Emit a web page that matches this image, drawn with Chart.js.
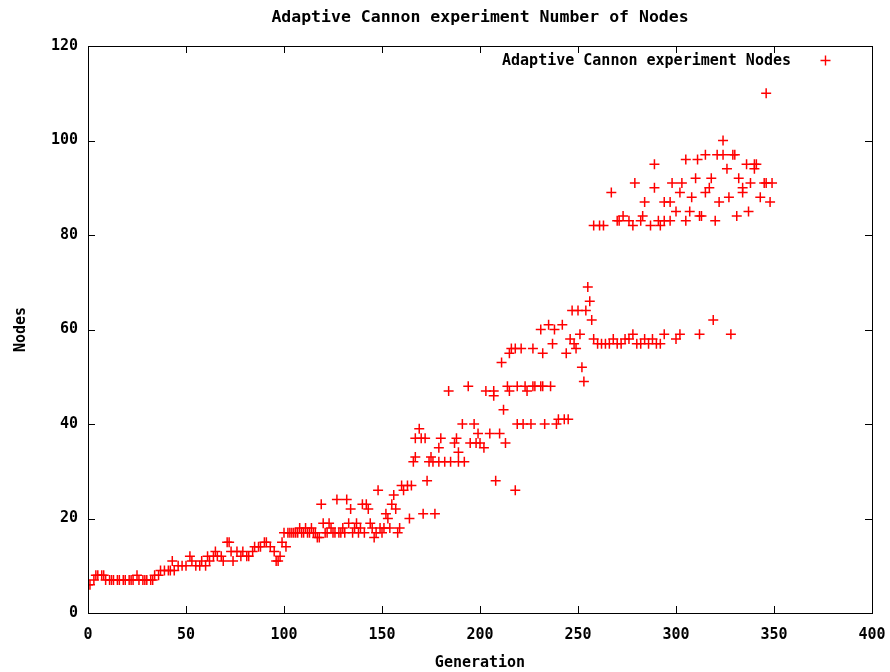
<!DOCTYPE html>
<html>
<head>
<meta charset="utf-8">
<script src="https://cdn.jsdelivr.net/npm/chart.js@4/dist/chart.umd.min.js"></script>
<style>
  html, body { margin: 0; padding: 0; background: #fff; }
</style>
</head>
<body>
<canvas id="c" width="890" height="672"></canvas>
<script>
// values (generation, number of nodes)
var generations = [
  0, 1, 3, 4, 5, 7, 8, 9, 11, 12, 13, 15, 16, 18, 19, 21, 22, 23, 25, 26, 28, 29, 30, 32, 33, 34, 36, 37, 39, 41,
  42, 43, 44, 46, 48, 50, 52, 53, 55, 57, 58, 60, 61, 62, 64, 65, 66, 68, 69, 71, 72, 73, 74, 76, 78, 79, 81, 82, 84, 85,
  87, 88, 90, 91, 93, 95, 96, 97, 98, 99,
  100, 101, 102, 103, 104, 105, 106, 107, 108, 109, 110, 111, 112, 113, 114, 115, 116, 117, 118, 119,
  120, 121, 122, 123, 124, 125, 126, 127, 128, 129, 130, 131, 132, 133, 134, 135, 136, 137, 138, 139,
  140, 141, 142, 143, 144, 145, 146, 147, 148, 149, 150, 151, 152, 153, 154, 155, 156, 157, 158, 159,
  160, 161, 163, 164, 165,
  166, 167, 167, 169, 170, 171, 172, 173, 174, 175, 176, 177, 179, 179, 180, 182, 184, 185, 187, 188,
  189, 189, 191, 192, 194, 195, 197, 198, 199, 200, 202, 203, 205, 207, 207, 208, 210, 211, 212, 213,
  214, 215, 215, 216, 218, 218, 219, 219, 221, 222, 223, 224, 226, 227, 227, 228, 231, 231, 232, 232,
  233, 235, 236, 237, 238, 239, 240, 242, 243, 244, 245, 246, 247, 248, 249, 250, 251, 252, 253, 254,
  255, 256, 257, 258,
  260, 262, 264, 266, 268, 270, 272, 274, 276, 278, 280, 282, 284, 286, 288, 290, 292, 294, 300, 302,
  312, 319, 328,
  258, 261, 263, 267, 270, 271, 273, 276, 278, 279, 282, 283, 284, 287, 289, 289, 291, 292, 294, 294,
  297, 297, 298, 300, 302, 303, 305, 305, 307, 308, 310, 311, 312, 313, 315, 315, 317, 318, 320, 321,
  322, 324, 324, 326, 327, 329, 330, 331, 332, 334, 334, 336, 337, 338, 340, 340, 341, 343, 345, 346,
  346, 348, 349
];
var nodes = [
  6, 6, 7, 8, 8, 8, 8, 7, 7, 7, 7, 7, 7, 7, 7, 7, 7, 7, 8, 7, 7, 7, 7, 7, 7, 8, 8, 9, 9, 9,
  9, 11, 9, 10, 10, 10, 12, 11, 10, 10, 11, 10, 12, 11, 12, 13, 12, 12, 11, 15, 15, 13, 11, 13, 12, 13, 12, 12, 13, 14,
  14, 14, 15, 15, 14, 13, 11, 11, 12, 15,
  17, 14, 17, 17, 17, 17, 17, 17, 18, 17, 17, 18, 17, 17, 18, 17, 17, 16, 16, 23,
  19, 17, 17, 19, 18, 17, 17, 24, 17, 17, 18, 17, 24, 19, 22, 17, 18, 19, 17, 18,
  23, 17, 23, 22, 19, 18, 16, 17, 26, 18, 17, 18, 21, 20, 18, 23, 25, 22, 17, 18,
  27, 26, 27, 20, 27,
  32, 33, 37, 39, 37, 21, 37, 28, 32, 33, 32, 21, 32, 35, 37, 32, 47, 32, 36, 37,
  34, 32, 40, 32, 48, 36, 40, 36, 38, 36, 35, 47, 38, 47, 46, 28, 38, 53, 43, 36,
  48, 47, 55, 56, 56, 26, 40, 48, 56, 40, 48, 47, 40, 56, 48, 48, 48, 60, 55, 48,
  40, 61, 48, 57, 60, 40, 41, 61, 41, 55, 41, 58, 64, 57, 56, 64, 59, 52, 49, 64,
  69, 66, 62, 58,
  57, 57, 57, 57, 58, 57, 57, 58, 58, 59, 57, 57, 58, 57, 58, 57, 57, 59, 58, 59,
  59, 62, 59,
  82, 82, 82, 89, 83, 83, 84, 83, 82, 91, 83, 84, 87, 82, 95, 90, 83, 82, 83, 87,
  87, 83, 91, 85, 89, 91, 83, 96, 85, 88, 92, 96, 84, 84, 89, 97, 90, 92, 83, 97,
  87, 97, 100, 94, 88, 97, 97, 84, 92, 90, 89, 95, 85, 91, 94, 95, 95, 88, 91, 91,
  110, 87, 91
];
var xTicks = [0, 50, 100, 150, 200, 250, 300, 350, 400];
var yTicks = [0, 20, 40, 60, 80, 100, 120];
var seriesName = 'Adaptive Cannon experiment Nodes';
var chartTitle = 'Adaptive Cannon experiment Number of Nodes';

var FONT = '"DejaVu Sans Mono", monospace';

var points = generations.map(function (g, i) { return { x: g, y: nodes[i] }; });

// gnuplot style frame: box border, inward ticks mirrored, title over the plot, key inside top right
var gnuFrame = {
  id: 'gnuFrame',
  afterDatasetsDraw: function (chart) {
    var ctx = chart.ctx, a = chart.chartArea;
    var xs = chart.scales.x, ys = chart.scales.y;
    ctx.save();
    ctx.strokeStyle = '#000';
    ctx.lineWidth = 1;
    ctx.strokeRect(Math.round(a.left) + 0.5, Math.round(a.top) + 0.5,
      Math.round(a.right - a.left), Math.round(a.bottom - a.top));
    ctx.beginPath();
    xTicks.forEach(function (v) {
      var px = Math.round(xs.getPixelForValue(v)) + 0.5;
      ctx.moveTo(px, a.bottom); ctx.lineTo(px, a.bottom - 7);
      ctx.moveTo(px, a.top); ctx.lineTo(px, a.top + 7);
    });
    yTicks.forEach(function (v) {
      var py = Math.round(ys.getPixelForValue(v)) + 0.5;
      ctx.moveTo(a.left, py); ctx.lineTo(a.left + 7, py);
      ctx.moveTo(a.right, py); ctx.lineTo(a.right - 7, py);
    });
    ctx.stroke();

    ctx.fillStyle = '#000';
    ctx.textBaseline = 'middle';

    // title, centred on the plot
    ctx.font = 'bold 16.5px ' + FONT;
    ctx.textAlign = 'center';
    ctx.fillText(chartTitle, (a.left + a.right) / 2, 18);

    // key
    ctx.font = 'bold 15px ' + FONT;
    ctx.textAlign = 'right';
    ctx.fillText(seriesName, a.right - 81, a.top + 15);
    ctx.strokeStyle = '#ff0000';
    ctx.lineWidth = 1.4;
    var kx = Math.round(a.right - 47) + 0.5, ky = Math.round(a.top + 14) + 0.5;
    ctx.beginPath();
    ctx.moveTo(kx - 5, ky); ctx.lineTo(kx + 5, ky);
    ctx.moveTo(kx, ky - 5); ctx.lineTo(kx, ky + 5);
    ctx.stroke();
    ctx.restore();
  }
};

new Chart(document.getElementById('c'), {
  type: 'scatter',
  data: {
    datasets: [{
      label: seriesName,
      data: points,
      pointStyle: 'cross',
      pointRadius: 5,
      pointHoverRadius: 5,
      borderColor: '#ff0000',
      backgroundColor: '#ff0000',
      pointBorderWidth: 1.5
    }]
  },
  options: {
    responsive: false,
    animation: false,
    events: [],
    layout: { padding: { left: 12, right: 18, top: 46, bottom: 0 } },
    plugins: {
      legend: { display: false },
      tooltip: { enabled: false },
      title: { display: false }
    },
    scales: {
      x: {
        type: 'linear',
        min: 0, max: 400,
        afterBuildTicks: function (s) { s.ticks = xTicks.map(function (v) { return { value: v }; }); },
        afterFit: function (s) { s.height = 59; s.paddingLeft = 0; s.paddingRight = 0; },
        grid: { display: false, drawTicks: false },
        border: { display: false },
        ticks: { color: '#000', padding: 13, maxRotation: 0, font: { family: FONT, size: 15, weight: 'bold' } },
        title: {
          display: true, text: 'Generation', color: '#000',
          font: { family: FONT, size: 15, weight: 'bold' }, padding: { top: 6, bottom: 0 }
        }
      },
      y: {
        type: 'linear',
        min: 0, max: 120,
        afterBuildTicks: function (s) { s.ticks = yTicks.map(function (v) { return { value: v }; }); },
        afterFit: function (s) { s.width = 76; s.paddingTop = 0; s.paddingBottom = 0; },
        grid: { display: false, drawTicks: false },
        border: { display: false },
        ticks: { color: '#000', padding: 10, font: { family: FONT, size: 15, weight: 'bold' } },
        title: {
          display: true, text: 'Nodes', color: '#000',
          font: { family: FONT, size: 15, weight: 'bold' }, padding: { top: 0, bottom: 0 }
        }
      }
    }
  },
  plugins: [gnuFrame]
});
</script>
</body>
</html>
